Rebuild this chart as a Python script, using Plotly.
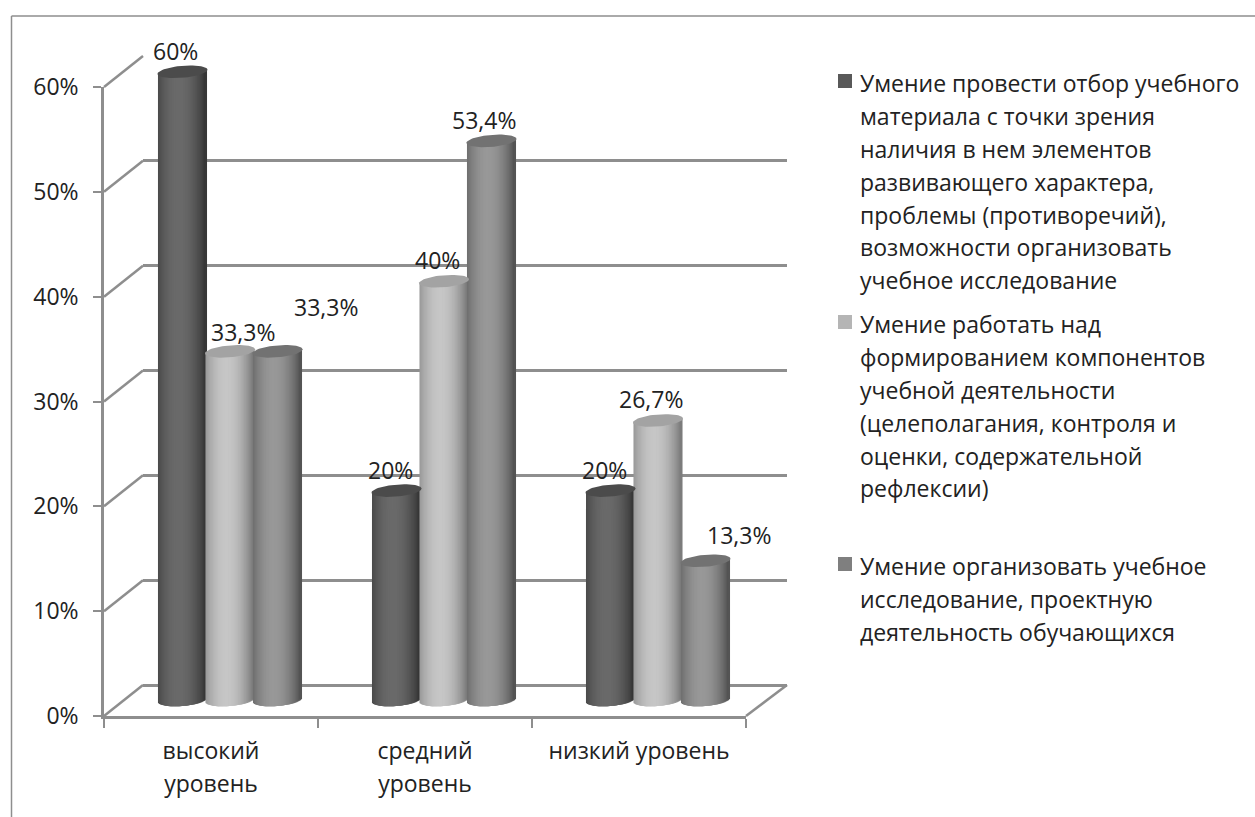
import math
import plotly.graph_objects as go

W, H = 1255, 817
FONT = "Open Sans"
TXT = "#222222"
LINE = "#8e8e8e"
LABEL_SIZE = 23

categories = ["высокий<br>уровень", "средний<br>уровень", "низкий уровень"]
series_names = [
    "Умение провести отбор учебного<br>материала с точки зрения<br>наличия в нем элементов<br>развивающего характера,<br>проблемы (противоречий),<br>возможности организовать<br>учебное исследование",
    "Умение работать над<br>формированием компонентов<br>учебной деятельности<br>(целеполагания, контроля и<br>оценки, содержательной<br>рефлексии)",
    "Умение организовать учебное<br>исследование, проектную<br>деятельность обучающихся",
]
s1_values = [60, 20, 20]
s2_values = [33.3, 40, 26.7]
s3_values = [33.3, 53.4, 13.3]
s1_labels = ["60%", "20%", "20%"]
s2_labels = ["33,3%", "40%", "26,7%"]
s3_labels = ["33,3%", "53,4%", "13,3%"]
y_ticks = [0, 10, 20, 30, 40, 50, 60]

# styling: (edge, centre, cap, legend swatch)
styles = [
    ((52, 52, 52), (106, 106, 106), "#4b4b4b", "#595959"),
    ((120, 120, 120), (198, 198, 198), "#a3a3a3", "#b5b5b5"),
    ((80, 80, 80), (152, 152, 152), "#727272", "#7f7f7f"),
]
# label offsets in px (dx, dy up) per series per category
label_offsets = [
    [(-7, 21), (-6, 21), (-6, 21)],
    [(13, 19), (-7, 21), (-7, 21)],
    [(48, 44), (-8, 21), (33, 26)],
]
legend_tops = [65, 306, 548]

PX_PER_VAL = 10.47
PX_PER_X = 214.0
N = 50
SPACING = 47.5 / PX_PER_X
BAR_W = 50.0 / PX_PER_X
RX = BAR_W / 2
RY = 6.0 / PX_PER_VAL
TILT = 2.0 / PX_PER_VAL
STRIP_W = 3.0 / PX_PER_X


def px(p):
    return p / W


def py(p):
    return 1 - p / H


def shade(edge, centre, t):
    # t in -1..1 across the cylinder, brightest slightly left of the middle
    k = math.cos(min(1.0, abs(t + 0.12) / 1.12) * math.pi / 2) ** 0.8
    c = [round(e + (m - e) * k) for e, m in zip(edge, centre)]
    return f"rgb({c[0]},{c[1]},{c[2]})"


fig = go.Figure()

# back wall (gridlines)
fig.add_trace(go.Scatter(x=[0], y=[0], xaxis="x", yaxis="y", mode="markers",
                         marker=dict(opacity=0), showlegend=False, hoverinfo="skip"))
# front axes
fig.add_trace(go.Scatter(x=categories, y=[None] * 3, xaxis="x2", yaxis="y2", mode="markers",
                         marker=dict(opacity=0), showlegend=False, hoverinfo="skip"))

all_values = [s1_values, s2_values, s3_values]
all_labels = [s1_labels, s2_labels, s3_labels]
annotations = []

for si, vals in enumerate(all_values):
    edge, centre, cap, _ = styles[si]
    xs, heights, bases, colors = [], [], [], []
    for gi, v in enumerate(vals):
        xc = gi + 0.5 + (si - 1) * SPACING
        for k in range(N):
            t = -1 + (2 * k + 1) / N
            low = -RY * math.sqrt(1 - t * t) + TILT * t
            top = v + TILT * t
            xs.append(xc + t * (RX - STRIP_W / 2))
            bases.append(low)
            heights.append(top - low)
            colors.append(shade(edge, centre, t))
    fig.add_trace(go.Bar(x=xs, y=heights, base=bases, width=STRIP_W,
                         marker=dict(color=colors, line=dict(width=0)),
                         xaxis="x3", yaxis="y3", name=series_names[si].replace("<br>", " "),
                         showlegend=False, hoverinfo="skip"))

for si, vals in enumerate(all_values):
    edge, centre, cap, _ = styles[si]
    for gi, v in enumerate(vals):
        xc = gi + 0.5 + (si - 1) * SPACING
        ex, ey = [], []
        for a in range(61):
            ang = 2 * math.pi * a / 60
            t = math.cos(ang)
            ex.append(xc + RX * t)
            ey.append(v + RY * math.sin(ang) + TILT * t)
        fig.add_trace(go.Scatter(x=ex, y=ey, xaxis="x3", yaxis="y3", mode="lines",
                                 fill="toself", fillcolor=cap, line=dict(width=0, color=cap),
                                 showlegend=False, hoverinfo="skip"))
        dx, dy = label_offsets[si][gi]
        annotations.append(dict(x=xc, y=v, xref="x3", yref="y3", text=all_labels[si][gi],
                                showarrow=False, xshift=dx, yshift=dy,
                                font=dict(family=FONT, size=LABEL_SIZE, color=TXT)))

# legend: squares plus text
shapes = []
for i, name in enumerate(series_names):
    top = legend_tops[i] + 9
    shapes.append(dict(type="rect", xref="paper", yref="paper", x0=px(838), x1=px(852),
                       y0=py(top), y1=py(top + 14), fillcolor=styles[i][3], line=dict(width=0)))
    text = "<br>".join(f'<span style="font-size:{LABEL_SIZE}px">{part}</span>' for part in name.split("<br>"))
    annotations.append(dict(xref="paper", yref="paper", x=px(858), y=py(legend_tops[i]),
                            xanchor="left", yanchor="top", align="left", showarrow=False, text=text,
                            font=dict(family=FONT, size=25.3, color=TXT)))

# floor and wall connectors from the front axis to the back wall
for v in y_ticks:
    y0 = 716 - v * (629 / 60)
    shapes.append(dict(type="line", xref="paper", yref="paper", x0=px(104), y0=py(y0),
                       x1=px(143), y1=py(y0 - 31), line=dict(color=LINE, width=2.5), layer="below"))
shapes.append(dict(type="line", xref="paper", yref="paper", x0=px(746), y0=py(716),
                   x1=px(787), y1=py(685), line=dict(color=LINE, width=2.5), layer="below"))
# outer frame
shapes.append(dict(type="line", xref="paper", yref="paper", x0=px(11.5), y0=py(16),
                   x1=px(1255), y1=py(16), line=dict(color=LINE, width=1.5)))
shapes.append(dict(type="line", xref="paper", yref="paper", x0=px(11.5), y0=py(16),
                   x1=px(11.5), y1=py(817), line=dict(color=LINE, width=1.5)))

x_ticktext = [
    "<br>".join(f'<span style="font-size:{LABEL_SIZE}px">{p}</span>' for p in c.split("<br>"))
    for c in categories
]

fig.update_layout(
    width=W, height=H, margin=dict(l=0, r=0, t=0, b=0, autoexpand=False), autosize=False,
    paper_bgcolor="white", plot_bgcolor="rgba(0,0,0,0)", barmode="overlay",
    showlegend=False, shapes=shapes, annotations=annotations,
    xaxis=dict(domain=[px(143), px(787)], range=[0, 1], showgrid=False, zeroline=False,
               showticklabels=False, ticks="", anchor="y"),
    yaxis=dict(domain=[py(685), py(56)], range=[0, 60], tickvals=y_ticks, showticklabels=False,
               ticks="", showgrid=True, gridcolor=LINE, gridwidth=2.5, zeroline=True,
               zerolinecolor=LINE, zerolinewidth=2.5, anchor="x"),
    xaxis2=dict(domain=[px(104), px(746)], type="category", categoryorder="array",
                categoryarray=categories, tickvals=categories, ticktext=x_ticktext,
                range=[-0.5, 2.5], tickson="boundaries", ticks="outside", ticklen=9,
                tickcolor=LINE, tickwidth=1.5, showline=True, linecolor=LINE, linewidth=2.5,
                showgrid=False, zeroline=False, tickangle=0, anchor="y2", ticklabelstandoff=10,
                tickfont=dict(family=FONT, size=25.3, color=TXT)),
    yaxis2=dict(domain=[py(716), py(87)], range=[0, 60], tickvals=y_ticks,
                ticktext=[f"{v}%" for v in y_ticks], ticks="outside", ticklen=8,
                tickcolor=LINE, tickwidth=1.5, showline=True, linecolor=LINE, linewidth=2.5,
                showgrid=False, zeroline=False, anchor="x2", ticklabelstandoff=10,
                tickfont=dict(family=FONT, size=LABEL_SIZE, color=TXT)),
    xaxis3=dict(domain=[px(123), px(765)], range=[0, 3], visible=False, anchor="y3"),
    yaxis3=dict(domain=[py(700 + 3 * PX_PER_VAL), py(700 - 66 * PX_PER_VAL)], range=[-3, 66],
                visible=False, anchor="x3"),
)

fig.write_html("out.html", post_script="document.body.style.margin='0';",
               config={"displayModeBar": False})
